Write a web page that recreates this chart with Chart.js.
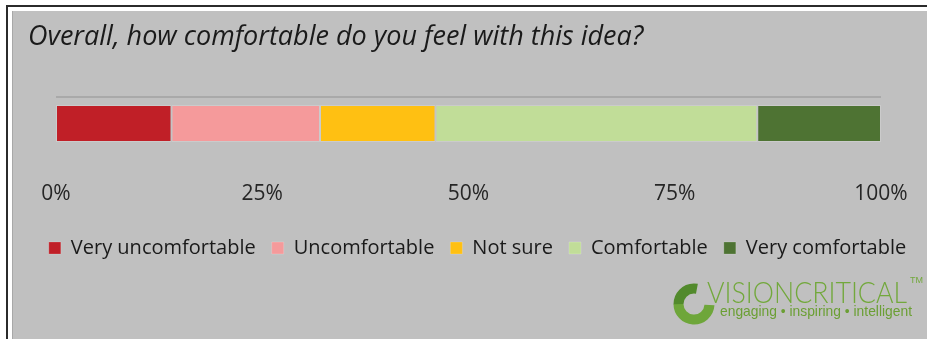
<!DOCTYPE html>
<html>
<head>
<meta charset="utf-8">
<script src="https://cdn.jsdelivr.net/npm/chart.js@4/dist/chart.umd.min.js"></script>
<style>
  html, body { margin: 0; background: #fff; }
  #wrap { width: 927px; height: 339px; }
</style>
</head>
<body>
<div id="wrap"><canvas id="chart" width="927" height="339"></canvas></div>
<script>
const categories = ['Overall'];
const seriesNames = ['Very uncomfortable', 'Uncomfortable', 'Not sure', 'Comfortable', 'Very comfortable'];
const seriesValues = [14, 18, 14, 39, 15];
const seriesColors = ['#c01f27', '#f59a9b', '#ffc012', '#c1dd98', '#4e7333'];
const tickLabels = ['0%', '25%', '50%', '75%', '100%'];

// squeeze or stretch a string so it spans a given width
function fitText(ctx, text, x, y, w) {
    const m = ctx.measureText(text).width;
    ctx.save();
    ctx.translate(x, y);
    ctx.scale(w / m, 1);
    ctx.fillText(text, 0, 0);
    ctx.restore();
}

const frame = {
    id: 'frame',
    beforeDraw(chart) {
        const { ctx, width, height } = chart;
        ctx.save();
        ctx.fillStyle = '#ffffff';
        ctx.fillRect(0, 0, width, height);
        ctx.fillStyle = '#2b2b2b';
        ctx.fillRect(6, 5, width - 6, 2);
        ctx.fillRect(6, 5, 2, height - 5);
        ctx.fillStyle = '#c0c0c0';
        ctx.fillRect(12, 11, width - 12, height - 11);
        ctx.fillStyle = '#a8a8a8';
        ctx.fillRect(12, 11, 1, height - 11);
        ctx.restore();
    }
};

const topRule = {
    id: 'topRule',
    beforeDatasetsDraw(chart) {
        const { ctx, chartArea: { top, left, right } } = chart;
        ctx.save();
        ctx.strokeStyle = '#a2a2a2';
        ctx.lineWidth = 1.5;
        ctx.beginPath();
        ctx.moveTo(left, top);
        ctx.lineTo(right, top);
        ctx.stroke();
        ctx.restore();
    }
};

const logo = {
    id: 'logo',
    afterDraw(chart) {
        const { ctx } = chart;
        const cx = 694, cy = 304;
        ctx.save();
        ctx.lineWidth = 10;
        ctx.strokeStyle = '#6ea63a';
        ctx.beginPath();
        ctx.arc(cx, cy, 15.5, 0.02 * Math.PI, Math.PI);
        ctx.stroke();
        ctx.strokeStyle = '#528a2c';
        ctx.beginPath();
        ctx.arc(cx, cy, 15.5, Math.PI - 0.01, 1.56 * Math.PI);
        ctx.stroke();

        ctx.fillStyle = '#72a83c';
        ctx.textBaseline = 'alphabetic';
        ctx.font = '300 29px Lato';
        fitText(ctx, 'VISIONCRITICAL', 707, 303, 200);
        ctx.font = '9px "Liberation Sans"';
        ctx.fillText('TM', 910, 283);
        ctx.fillStyle = '#6b9f34';
        ctx.font = '15px "Liberation Sans"';
        fitText(ctx, 'engaging \u2022 inspiring \u2022 intelligent', 720, 316, 192);
        ctx.restore();
    }
};

const datasets = seriesNames.map((name, i) => ({
    label: name,
    data: [seriesValues[i]],
    backgroundColor: seriesColors[i],
    borderColor: 'rgba(255,255,255,0.18)',
    borderWidth: 1,
    borderSkipped: false,
    barPercentage: 0.7,
    categoryPercentage: 1
}));

new Chart(document.getElementById('chart'), {
    type: 'bar',
    data: { labels: categories, datasets },
    options: {
        indexAxis: 'y',
        responsive: false,
        animation: false,
        devicePixelRatio: 1,
        layout: { padding: { left: 28, right: 0, top: 12, bottom: 71 } },
        plugins: {
            title: {
                display: true,
                text: 'Overall, how comfortable do you feel with this idea?',
                align: 'start',
                color: '#1a1a1a',
                font: { family: 'Open Sans', style: 'italic', weight: 'normal', size: 27 },
                padding: { top: 9, bottom: 43.6 }
            },
            legend: {
                position: 'bottom',
                align: 'center',
                labels: {
                    boxWidth: 12,
                    boxHeight: 12,
                    padding: 16,
                    color: '#1a1a1a',
                    font: { family: 'Open Sans', size: 20 }
                }
            },
            tooltip: { enabled: false }
        },
        scales: {
            x: {
                stacked: true,
                min: 0,
                max: 100,
                border: { display: false },
                grid: { display: false },
                ticks: {
                    stepSize: 25,
                    padding: 23,
                    color: '#262626',
                    font: { family: 'Open Sans', size: 21 },
                    callback: (v, i) => tickLabels[i]
                },
                afterFit(scale) {
                    scale.paddingRight = 46;
                    scale.height = 72;
                }
            },
            y: {
                stacked: true,
                border: { display: false },
                grid: { display: false },
                ticks: { display: false },
                afterFit(scale) { scale.width = 28; }
            }
        }
    },
    plugins: [frame, topRule, logo]
});
</script>
</body>
</html>
